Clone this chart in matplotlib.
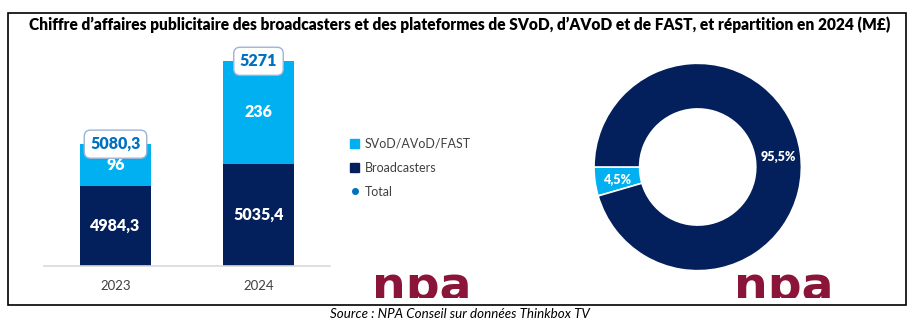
import matplotlib
matplotlib.use('Agg')
import matplotlib.pyplot as plt
import matplotlib.patches as mpatches
import matplotlib.lines as mlines
from matplotlib.transforms import Bbox, TransformedBbox

plt.rcParams['font.family'] = ['Lato', 'DejaVu Sans']

# data
years = ['2023', '2024']
broadcasters = [4984.3, 5035.4]
svod = [96, 236]
totals = [5080.3, 5271]
broadcasters_lbl = ['4984,3', '5035,4']
svod_lbl = ['96', '236']
totals_lbl = ['5080,3', '5271']
share_labels = ['4,5%', '95,5%']
shares = [4.5, 95.5]

navy = '#03205c'
light = '#00b0f0'
blue_txt = '#0070c0'
grey_txt = '#404040'
logo_col = '#8a1538'

fig = plt.figure(figsize=(9.2, 3.3), dpi=100)

# outer frame
frame = fig.add_axes([8/920, 1-305/330, 898/920, 292/330])
frame.axis('off')
frame.add_patch(mpatches.Rectangle((0, 0), 1, 1, transform=frame.transAxes,
                                   fill=False, edgecolor='black', lw=1.2, clip_on=False))
fig.text(0.5, 1-25/330, "Chiffre d\u2019affaires publicitaire des broadcasters et des plateformes de SVoD, d\u2019AVoD et de FAST, et r\u00e9partition en 2024 (M\u00a3)",
         ha='center', va='center', fontsize=11.2, fontweight='heavy', color='black')
fig.text(0.5, 1-314/330, "Source : NPA Conseil sur donn\u00e9es Thinkbox TV",
         ha='center', va='center', fontsize=9.6, style='italic', color='black')

# stacked bars
ax = fig.add_axes([44/920, 1-266/330, 286/920, 226/330])
x = [0, 1]
ax.bar(x, broadcasters, width=0.5, color=navy, zorder=2)
ax.bar(x, svod, bottom=broadcasters, width=0.5, color=light, zorder=2)
ax.set_xlim(-0.5, 1.5)
ymin, ymax = 4800, 5320
ax.set_ylim(ymin, ymax)
for s in ['top', 'right', 'left']:
    ax.spines[s].set_visible(False)
ax.spines['bottom'].set_color('#d9d9d9')
ax.spines['bottom'].set_linewidth(1.2)
ax.set_yticks([])
ax.set_xticks(x)
ax.set_xticklabels(years, fontsize=9.5, color=grey_txt)
ax.tick_params(axis='x', length=0, pad=10)

for i in x:
    ax.text(i, (ymin + broadcasters[i]) / 2, broadcasters_lbl[i], ha='center', va='center',
            color='white', fontsize=11.5, fontweight='heavy', zorder=3)
    ax.text(i, broadcasters[i] + svod[i] / 2, svod_lbl[i], ha='center', va='center',
            color='white', fontsize=11.5, fontweight='heavy', zorder=3)
    ax.text(i, totals[i], totals_lbl[i], ha='center', va='center', color=blue_txt,
            fontsize=11.5, fontweight='heavy', zorder=4,
            bbox=dict(boxstyle='round,pad=0.38,rounding_size=0.4', fc='white',
                      ec='#9db3d6', lw=1.0))

handles = [mpatches.Patch(color=light, label='SVoD/AVoD/FAST'),
           mpatches.Patch(color=navy, label='Broadcasters'),
           mlines.Line2D([], [], color=blue_txt, marker='o', ls='none', markersize=4, label='Total')]
leg = fig.legend(handles=handles, loc='upper left', bbox_to_anchor=(345/920, 1-133/330),
                 frameon=False, fontsize=9, handlelength=0.75, handleheight=0.75,
                 handletextpad=0.45, labelspacing=0.95, borderaxespad=0)
for t in leg.get_texts():
    t.set_color(grey_txt)

# donut
ax2 = fig.add_axes([(697.7-103.7)/920, 1-(167+103.7)/330, 207.4/920, 207.4/330])
wedges, _ = ax2.pie(shares, colors=[light, navy], startangle=180, counterclock=True,
                    wedgeprops=dict(width=0.44, edgecolor='white', linewidth=1.2))
ax2.set_xlim(-1, 1)
ax2.set_ylim(-1, 1)
ax2.set_aspect('equal')
ax2.text(-0.78, -0.12, share_labels[0], ha='center', va='center', color='white',
         fontsize=9, fontweight='heavy')
ax2.text(0.78, 0.10, share_labels[1], ha='center', va='center', color='white',
         fontsize=9, fontweight='heavy')

# npa logos (cropped like the reference image)
clip = TransformedBbox(Bbox([[0, 1-298/330], [1, 1]]), fig.transFigure)
for cx in [422/920, 784/920]:
    t = fig.text(cx, 1-300/330, 'npa', ha='center', va='baseline', fontsize=34,
                 fontweight='heavy', color=logo_col, family='DejaVu Sans')
    t.set_clip_box(clip)
    t.set_clip_on(True)

fig.savefig('out.png', dpi=100)
